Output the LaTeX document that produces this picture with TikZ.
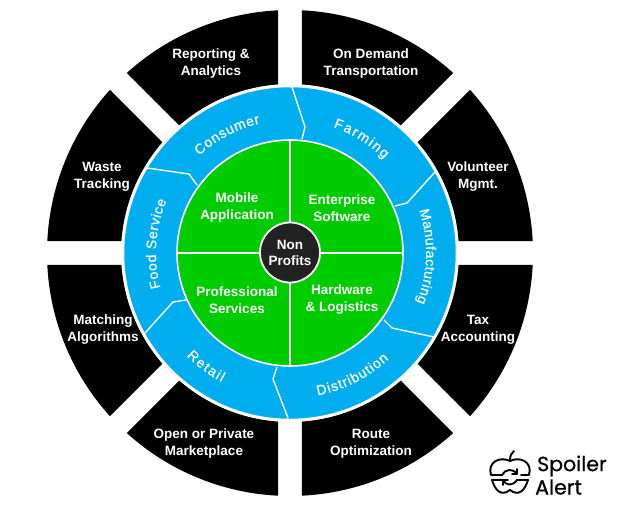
\documentclass[tikz,border=0pt]{standalone}
\usepackage{fontspec}
\setmainfont{Liberation Sans}
\newfontfamily\logofont[FakeBold=0.6]{Poppins}
\newfontfamily\ringfont[FakeBold=0.5]{Liberation Sans}
\usetikzlibrary{decorations.text}
\definecolor{skyb}{HTML}{00AEEF}
\definecolor{leaf}{HTML}{00CC00}
\definecolor{hub}{HTML}{222222}
\tikzset{
  x=1pt,y=1pt,
  blacksec/.style={fill=black,draw=none},
  blacklabel/.style={text=white,font=\fontsize{13.5}{17}\selectfont\bfseries,align=center,inner sep=0pt},
  greenlabel/.style={text=white,font=\fontsize{13.5}{17}\selectfont\bfseries,align=center,inner sep=0pt},
  divider/.style={draw=white,line width=1.4pt,line join=miter},
  logoline/.style={draw=black,line width=1.9pt,line cap=round,line join=round},
}
% px helper: coordinates typed in reference pixels, origin at the wheel centre (290,253)
\newcommand{\PX}[3]{\coordinate (#1) at ({#2-290},{253-#3});}
% sector: start angle, end angle
\newcommand{\blacksector}[2]{%
  \fill[blacksec] ({#1+2.83}:243) arc[start angle={#1+2.83},end angle={#2-2.83},radius=243]
    -- ({#2-4.07}:169) arc[start angle={#2-4.07},end angle={#1+4.07},radius=169] -- cycle;}
% curved label: clockwise (baseline towards centre)
\newcommand{\cwlabel}[5]{% name, centre angle, half span, radius, text
  \path[decorate,decoration={text along path,text align={fit to path},
    text={|\fontsize{14}{16}\ringfont\selectfont\color{white}|#5}}]
    ({#2+#3}:#4) arc[start angle={#2+#3},end angle={#2-#3},radius=#4];}
\newcommand{\ccwlabel}[5]{%
  \path[decorate,decoration={text along path,text align={fit to path},
    text={|\fontsize{14}{16}\ringfont\selectfont\color{white}|#5}}]
    ({#2-#3}:#4) arc[start angle={#2-#3},end angle={#2+#3},radius=#4];}
\begin{document}
\begin{tikzpicture}
\useasboundingbox (-290,-262) rectangle (328,253);
\foreach \a in {0,45,...,315} {\blacksector{\a}{\a+45}}
% blue ring
\node[circle,fill=skyb,draw=white,line width=2.5pt,minimum size=334pt,inner sep=0pt] (ring) at (0,0) {};
% dividers
\PX{a1}{292}{87}\PX{a2}{305}{127}\PX{a3}{302}{139}
\PX{b1}{435}{172}\PX{b2}{407}{203}\PX{b3}{395}{206}
\PX{c1}{434}{337}\PX{c2}{392}{328}\PX{c3}{384}{320}
\PX{d1}{288}{418}\PX{d2}{273}{379}\PX{d3}{277}{367}
\PX{e1}{145}{333}\PX{e2}{173}{302}\PX{e3}{186}{300}
\PX{f1}{147}{168}\PX{f2}{189}{174}\PX{f3}{197}{185}
\draw[divider] (a1)--(a2)--(a3);
\draw[divider] (b1)--(b2)--(b3);
\draw[divider] (c1)--(c2)--(c3);
\draw[divider] (d1)--(d2)--(d3);
\draw[divider] (e1)--(e2)--(e3);
\draw[divider] (f1)--(f2)--(f3);
% green disc
\node[circle,fill=leaf,draw=white,line width=1.6pt,minimum size=226pt,inner sep=0pt] (disc) at (0,0) {};
\draw[white,line width=2.6pt] (disc.north) -- (disc.south);
\draw[white,line width=2.6pt] (disc.west) -- (disc.east);
\node[circle,fill=hub,draw=white,line width=1.8pt,minimum size=60pt,inner sep=0pt,
  text=white,font=\fontsize{13.5}{16}\selectfont\bfseries,align=center] (hubnode) at (0,0.5) {Non\\Profits};
% black labels
\node[blacklabel] (l1) at ({211-290},{253-64}) {Reporting \&\\Analytics};
\node[blacklabel] (l2) at ({371-290},{253-64}) {On Demand\\Transportation};
\node[blacklabel] (l3) at ({102-290},{253-177}) {Waste\\Tracking};
\node[blacklabel] (l4) at ({478-290},{253-177}) {Volunteer\\Mgmt.};
\node[blacklabel] (l5) at ({103-290},{253-330}) {Matching\\Algorithms};
\node[blacklabel] (l6) at ({478-290},{253-330}) {Tax\\Accounting};
\node[blacklabel] (l7) at ({204-290},{253-444}) {Open or Private\\Marketplace};
\node[blacklabel] (l8) at ({371-290},{253-444}) {Route\\Optimization};
% green labels
\node[greenlabel] (g1) at ({237-290},{253-208}) {Mobile\\Application};
\node[greenlabel] (g2) at ({342-290},{253-208}) {Enterprise\\Software};
\node[greenlabel] (g3) at ({237-290},{253-300}) {Professional\\Services};
\node[greenlabel] (g4) at ({342-290},{253-300}) {Hardware\\\& Logistics};
% ring labels
\cwlabel{t1}{118}{15}{133}{Consumer}
\cwlabel{t2}{58}{13}{133}{Farming}
\cwlabel{t3}{-1.5}{19.8}{136}{Manufacturing}
\ccwlabel{t4}{-63}{16}{145}{Distribution}
\ccwlabel{t5}{233.5}{8.6}{146}{Retail}
\cwlabel{t6}{176}{19}{134}{Food Service}
% logo
\PX{ls1}{491}{475}\PX{ls2}{510}{461}\PX{ls3}{529}{475}\PX{ls4}{514}{451}
\PX{lm1}{502}{475}\PX{lm2}{517}{474}\PX{lm3}{521}{475}
\draw[logoline] (lm1) -- (ls1) .. controls ({487-290},{253-462}) and ({500-290},{253-456}) .. (ls2)
  .. controls ({520-290},{253-456}) and ({533-290},{253-462}) .. (ls3) -- (lm3);
\draw[logoline] (ls2) .. controls ({510-290},{253-456}) and ({511-290},{253-453}) .. (ls4);
\draw[logoline] (lm1) .. controls ({505-290},{253-469}) and ({513-290},{253-468}) .. (lm2);
\draw[logoline] ({517-290},{253-469}) -- (lm2) -- ({512-290},{253-474});
\PX{lb1}{492}{480}\PX{lb2}{510}{490}\PX{lb3}{528}{480}\PX{lb4}{503}{480}\PX{lb5}{517}{480}
\draw[logoline] (lb4) -- (lb1) .. controls ({495-290},{253-490}) and ({501-290},{253-497}) .. (lb2)
  .. controls ({519-290},{253-497}) and ({525-290},{253-490}) .. (lb3) -- (lb5);
\draw[logoline] (lb4) .. controls ({506-290},{253-486}) and ({513-290},{253-486}) .. ({517-290},{253-480});
\draw[logoline] ({503-290},{253-485}) -- (lb4) -- ({508-290},{253-480});
\node[anchor=west,inner sep=0pt,font=\fontsize{20.5}{22}\logofont\selectfont] (sp) at ({537-290},{253-466}) {Spoiler};
\node[anchor=west,inner sep=0pt,font=\fontsize{20.5}{22}\logofont\selectfont] (al) at ({535-290},{253-487}) {Alert};
\end{tikzpicture}
\end{document}
